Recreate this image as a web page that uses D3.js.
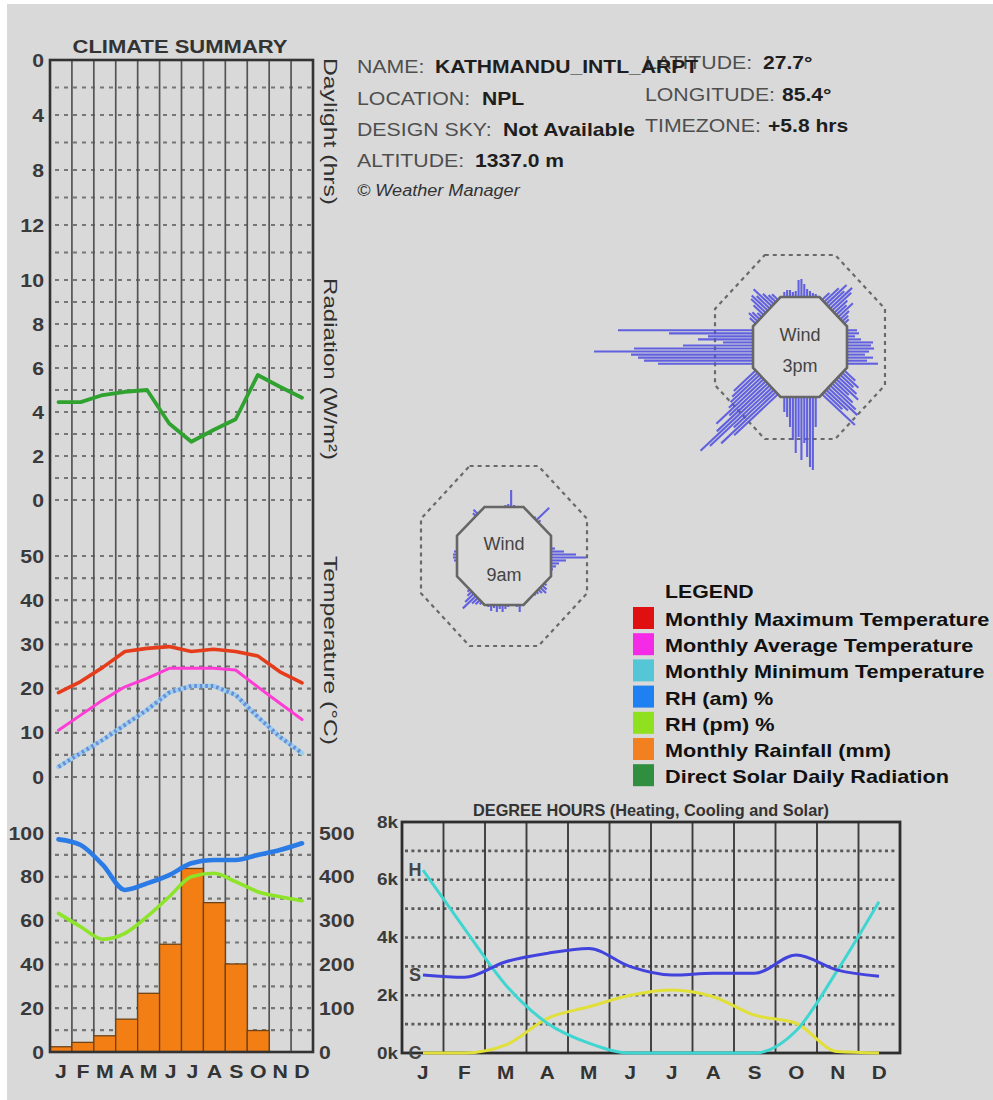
<!DOCTYPE html>
<html>
<head>
<meta charset="utf-8">
<script src="https://cdn.jsdelivr.net/npm/d3@7"></script>
<style>
  html, body { margin: 0; padding: 0; background: #ffffff; }
  svg { display: block; font-family: "Liberation Sans", Arial, sans-serif; }
</style>
</head>
<body>
<svg id="chart" width="993" height="1100"></svg>
<script>
// ---------- data ----------
const months = ["J","F","M","A","M","J","J","A","S","O","N","D"];

const solarRadiation = [4.45, 4.45, 4.77, 4.92, 5.0, 3.48, 2.65, 3.18, 3.67, 5.68, 5.15, 4.65];
const maxTemp = [19.1, 21.6, 24.8, 28.4, 29.1, 29.5, 28.4, 28.9, 28.4, 27.4, 23.8, 21.3];
const avgTemp = [10.6, 14.0, 17.4, 20.4, 22.3, 24.6, 24.6, 24.6, 24.2, 20.4, 16.7, 13.0];
const minTemp = [2.3, 5.4, 8.4, 11.8, 15.2, 19.1, 20.6, 20.6, 18.6, 13.6, 9.1, 5.4];
const rhAm = [97.1, 94.5, 85.4, 74.0, 77.0, 80.8, 86.2, 87.7, 87.7, 90.0, 92.2, 95.3];
const rhPm = [63.3, 57.2, 51.5, 54.2, 61.8, 70.9, 80.0, 81.6, 77.8, 73.2, 70.9, 69.1];
const rainfall = [12, 22, 37, 75, 134, 246, 419, 341, 201, 49, 0, 0];

const daylightTicks = [0, 4, 8, 12];
const radiationTicks = [0, 2, 4, 6, 8, 10];
const tempTicks = [0, 10, 20, 30, 40, 50];
const rhTicks = [0, 20, 40, 60, 80, 100];
const rainTicks = [0, 100, 200, 300, 400, 500];

// degree hours, in thousands
const heatingDH = [6.33, 4.31, 2.35, 1.03, 0.34, 0, 0, 0, 0, 0.77, 2.87, 5.24];
const coolingDH = [0, 0, 0.28, 1.2, 1.6, 2.0, 2.18, 1.95, 1.31, 1.03, 0.05, 0];
const solarDH = [2.7, 2.62, 3.16, 3.45, 3.62, 2.99, 2.7, 2.76, 2.76, 3.39, 2.87, 2.66];
const dhTicks = [0, 2, 4, 6, 8];
const dhSeriesTags = ["H", "C", "S"];

const stationLabels = ["NAME:", "LOCATION:", "DESIGN SKY:", "ALTITUDE:"];
const stationValues = ["KATHMANDU_INTL_ARPT", "NPL", "Not Available", "1337.0 m"];
const coordLabels = ["LATITUDE:", "LONGITUDE:", "TIMEZONE:"];
const coordValues = ["27.7°", "85.4°", "+5.8 hrs"];

const legendLabels = [
  "Monthly Maximum Temperature",
  "Monthly Average Temperature",
  "Monthly Minimum Temperature",
  "RH (am)  %",
  "RH (pm) %",
  "Monthly Rainfall (mm)",
  "Direct Solar Daily Radiation"
];

// wind frequency per octagon side (N, NE, E, SE, S, SW, W, NW), 12 bins along each side
const windSides = ["N", "NE", "E", "SE", "S", "SW", "W", "NW"];
const wind9am = [
  [0, 0, 0, 0, 0, 0, 2, 3, 17, 2, 0, 0],
  [0, 0, 0, 0, 2, 18, 3, 0, 0, 0, 0, 0],
  [0, 0, 1, 4, 13, 25, 35, 15, 8, 5, 2, 0],
  [0, 0, 3, 6, 8, 5, 3, 2, 0, 0, 0, 0],
  [7, 2, 0, 0, 2, 4, 7, 4, 7, 3, 6, 2],
  [3, 6, 8, 18, 12, 6, 3, 0, 0, 0, 0, 0],
  [0, 0, 0, 0, 3, 4, 4, 3, 0, 0, 0, 0],
  [0, 0, 0, 0, 0, 0, 0, 0, 4, 6, 0, 0]
];
const wind3pm = [
  [5, 7, 7, 5, 6, 17, 18, 13, 8, 6, 4, 3],
  [10, 20, 28, 22, 30, 26, 18, 14, 20, 12, 8, 6],
  [10, 12, 8, 14, 26, 24, 27, 22, 18, 26, 20, 31],
  [15, 22, 18, 25, 30, 20, 28, 35, 40, 30, 25, 45],
  [30, 73, 70, 60, 46, 63, 40, 56, 43, 30, 20, 15],
  [60, 75, 55, 85, 95, 70, 50, 65, 45, 40, 35, 30],
  [95, 109, 115, 122, 159, 119, 70, 30, 55, 45, 84, 135],
  [8, 12, 10, 6, 14, 20, 22, 18, 25, 15, 10, 8]
];

// ---------- helpers ----------
const FONT = '"Liberation Sans", Arial, sans-serif';

function widen(sel, k) {
  sel.each(function () {
    const w = this.getComputedTextLength();
    if (w > 0) {
      this.setAttribute("textLength", (w * k).toFixed(1));
      this.setAttribute("lengthAdjust", "spacingAndGlyphs");
    }
  });
}
function fitTo(sel, w) {
  sel.attr("textLength", w).attr("lengthAdjust", "spacingAndGlyphs");
}
function styleAxis(g, size, color) {
  g.select(".domain").remove();
  g.selectAll(".tick line").remove();
  g.selectAll("text")
    .attr("font-size", size)
    .attr("font-weight", "bold")
    .attr("font-family", FONT)
    .attr("fill", color || "#3a3a3a");
}

const svg = d3.select("#chart");

// panel background
svg.append("rect").attr("x", 7).attr("y", 4).attr("width", 986).attr("height", 1096).attr("fill", "#d9d9d9");

// ---------- climate summary (left) ----------
const frame = { x0: 50, x1: 313, top: 60, bottom: 1052 };
const xBand = d3.scaleBand().domain(d3.range(12)).range([frame.x0, frame.x1]);
const xPt = d3.scalePoint().domain(d3.range(12)).range([58.5, 302]);
const yDay = d3.scaleLinear().domain([0, 16]).range([60, 280]);
const yRad = d3.scaleLinear().domain([0, 10]).range([500, 280]);
const yTemp = d3.scaleLinear().domain([0, 50]).range([777, 556]);
const yRH = d3.scaleLinear().domain([0, 100]).range([1052, 833]);
const yRain = d3.scaleLinear().domain([0, 500]).range([1052, 833]);

const left = svg.append("g");

// horizontal dashed grid
const gridYs = [
  ...d3.range(2, 16, 2).map(yDay),
  ...d3.range(0, 11, 1).map(yRad),
  ...d3.range(0, 55, 5).map(yTemp),
  ...d3.range(10, 110, 10).map(yRH)
];
left.append("g").selectAll("line").data(gridYs).join("line")
  .attr("x1", frame.x0 + 2).attr("x2", frame.x1 - 2)
  .attr("y1", d => d).attr("y2", d => d)
  .attr("stroke", "#767676").attr("stroke-width", 2.2)
  .attr("stroke-dasharray", "4,5").attr("stroke-dashoffset", -3);

// month separators
left.append("g").selectAll("line").data(d3.range(1, 12)).join("line")
  .attr("x1", d => xBand(d)).attr("x2", d => xBand(d))
  .attr("y1", frame.top).attr("y2", frame.bottom)
  .attr("stroke", "#545454").attr("stroke-width", 1.7);

// rainfall bars
left.append("g").selectAll("rect").data(rainfall.map((v, i) => ({ v, i })).filter(d => d.v > 0)).join("rect")
  .attr("x", d => xBand(d.i)).attr("width", xBand.bandwidth())
  .attr("y", d => yRain(d.v)).attr("height", d => yRain(0) - yRain(d.v))
  .attr("fill", "#f27e14").attr("stroke", "#6e4416").attr("stroke-width", 1.3);

// frame
left.append("rect")
  .attr("x", frame.x0).attr("y", frame.top)
  .attr("width", frame.x1 - frame.x0).attr("height", frame.bottom - frame.top)
  .attr("fill", "none").attr("stroke", "#333").attr("stroke-width", 2.6);

function drawLine(g, values, y, color, width, curve, extra) {
  const gen = d3.line().x((d, i) => xPt(i)).y(d => y(d)).curve(curve || d3.curveLinear);
  const p = g.append("path").datum(values).attr("d", gen)
    .attr("fill", "none").attr("stroke", color).attr("stroke-width", width)
    .attr("stroke-linejoin", "round").attr("stroke-linecap", "round");
  if (extra) extra(p);
  return p;
}

drawLine(left, solarRadiation, yRad, "#30a230", 3.8);
drawLine(left, maxTemp, yTemp, "#e53d1c", 3.6);
drawLine(left, avgTemp, yTemp, "#ff3cd4", 3);
drawLine(left, minTemp, yTemp, "#98d2ea", 4.6);
drawLine(left, minTemp, yTemp, "#7088dc", 4, null, p => p.attr("stroke-dasharray", "2.5,3").attr("stroke-linecap", "butt"));
drawLine(left, rhPm, yRH, "#8de428", 3.6, d3.curveMonotoneX);
drawLine(left, rhAm, yRH, "#2a7be6", 4.6, d3.curveMonotoneX);

// axes
const axL = (scale, ticks) => left.append("g").attr("transform", `translate(${frame.x0},0)`)
  .call(d3.axisLeft(scale).tickValues(ticks).tickSize(0).tickPadding(6));
[axL(yDay, daylightTicks), axL(yRad, radiationTicks), axL(yTemp, tempTicks), axL(yRH, rhTicks)]
  .forEach(g => { styleAxis(g, 19); widen(g.selectAll("text"), 1.12); });

const rainAxis = left.append("g").attr("transform", `translate(${frame.x1},0)`)
  .call(d3.axisRight(yRain).tickValues(rainTicks).tickSize(0).tickPadding(6));
styleAxis(rainAxis, 19);
widen(rainAxis.selectAll("text"), 1.12);

const monthAxis = left.append("g").attr("transform", `translate(0,${frame.bottom})`)
  .call(d3.axisBottom(xBand).tickFormat(i => months[i]).tickSize(0).tickPadding(13));
styleAxis(monthAxis, 19, "#333");
widen(monthAxis.selectAll("text"), 1.12);

// titles
const title = left.append("text").attr("x", 180).attr("y", 53).attr("text-anchor", "middle")
  .attr("font-size", 19).attr("font-weight", "bold").attr("fill", "#333").text("CLIMATE SUMMARY");
fitTo(title, 215);

const sideTitles = [
  { t: "Daylight (hrs)", y: 58, len: 147 },
  { t: "Radiation (W/m²)", y: 278, len: 182 },
  { t: "Temperature (°C)", y: 556, len: 189 }
];
left.append("g").selectAll("text").data(sideTitles).join("text")
  .attr("transform", d => `translate(324,${d.y}) rotate(90)`)
  .attr("font-size", 18.5).attr("fill", "#303030")
  .attr("textLength", d => d.len).attr("lengthAdjust", "spacingAndGlyphs")
  .text(d => d.t);

// ---------- station header ----------
const head = svg.append("g").attr("font-size", 18.5);
const leftRows = { labelX: 357, valueX: [435, 482, 503, 475], base: [73, 105, 136, 167] };
const rightRows = { labelX: 645, valueX: [763, 782, 768], base: [69, 101, 132] };

function headerRows(labels, values, lay) {
  labels.forEach((lab, i) => {
    const a = head.append("text").attr("x", lay.labelX).attr("y", lay.base[i])
      .attr("fill", "#4e4e4e").text(lab);
    widen(a, 1.15);
    const b = head.append("text").attr("x", lay.valueX[i]).attr("y", lay.base[i])
      .attr("fill", "#1e1e1e").attr("font-weight", "bold").text(values[i]);
    widen(b, 1.14);
  });
}
headerRows(coordLabels, coordValues, rightRows);
headerRows(stationLabels, stationValues, leftRows);

const credit = head.append("text").attr("x", 357).attr("y", 196)
  .attr("font-size", 16).attr("font-style", "italic").attr("fill", "#333").text("© Weather Manager");
widen(credit, 1.13);

// ---------- wind roses ----------
function octagon(cx, cy, ax, ay) {
  const k = 1 / Math.cos(Math.PI / 8);
  return d3.range(8).map(i => {
    const a = (-112.5 + 45 * i) * Math.PI / 180;
    return [cx + ax * k * Math.cos(a), cy + ay * k * Math.sin(a)];
  });
}
const windLen = d3.scaleLinear().domain([0, 100]).range([0, 100]);

function windRose(cx, cy, data, caption, inner, outer) {
  const g = svg.append("g");
  const outerPts = octagon(cx, cy, outer[0], outer[1]);
  g.append("polygon").attr("points", outerPts.map(p => p.join(",")).join(" "))
    .attr("fill", "none").attr("stroke", "#6a6a6a").attr("stroke-width", 2.2)
    .attr("stroke-dasharray", "4,4");

  const pts = octagon(cx, cy, inner[0], inner[1]);
  const bars = [];
  data.forEach((side, s) => {
    const v0 = pts[s], v1 = pts[(s + 1) % 8];
    const dx = v1[0] - v0[0], dy = v1[1] - v0[1];
    const L = Math.hypot(dx, dy);
    const n = [dy / L, -dx / L];
    side.forEach((v, i) => {
      if (v <= 0) return;
      const f = 0.06 + 0.88 * (i + 0.5) / side.length;
      const p = [v0[0] + dx * f, v0[1] + dy * f];
      bars.push({ side: windSides[s], p, q: [p[0] + n[0] * windLen(v), p[1] + n[1] * windLen(v)] });
    });
  });
  g.append("g").selectAll("line").data(bars).join("line")
    .attr("x1", d => d.p[0]).attr("y1", d => d.p[1])
    .attr("x2", d => d.q[0]).attr("y2", d => d.q[1])
    .attr("stroke", "#5050e0").attr("stroke-width", 2.1).attr("stroke-opacity", 0.88);

  g.append("polygon").attr("points", pts.map(p => p.join(",")).join(" "))
    .attr("fill", "#dadada").attr("stroke", "#666").attr("stroke-width", 2.6);
  g.append("text").attr("x", cx).attr("y", cy - 12).attr("text-anchor", "middle")
    .attr("dominant-baseline", "central").attr("font-size", 18).attr("fill", "#444").text("Wind");
  g.append("text").attr("x", cx).attr("y", cy + 19).attr("text-anchor", "middle")
    .attr("dominant-baseline", "central").attr("font-size", 18).attr("fill", "#444").text(caption);
}
windRose(800, 347, wind3pm, "3pm", [47, 50], [85, 92]);
windRose(504, 556, wind9am, "9am", [47, 49], [83, 90]);

// ---------- legend ----------
const legendColors = ["#e01010", "#f52ae6", "#55c6d6", "#1f80f2", "#8fe01e", "#f28020", "#2f8f3e"];
const lg = svg.append("g");
const lgTitle = lg.append("text").attr("x", 665).attr("y", 598).attr("font-size", 18.5)
  .attr("font-weight", "bold").attr("fill", "#111").text("LEGEND");
widen(lgTitle, 1.15);
const rows = lg.selectAll("g.row").data(legendLabels).join("g").attr("class", "row")
  .attr("transform", (d, i) => `translate(0,${626 + 26.2 * i})`);
rows.append("rect").attr("x", 633).attr("y", -19).attr("width", 21).attr("height", 22)
  .attr("fill", (d, i) => legendColors[i]);
const lgText = rows.append("text").attr("x", 665).attr("y", 0).attr("font-size", 18.5)
  .attr("font-weight", "bold").attr("fill", "#111").text(d => d);
widen(lgText, 1.17);

// ---------- degree hours ----------
const dh = { x0: 402, x1: 900, top: 822, bottom: 1053 };
const dhBand = d3.scaleBand().domain(d3.range(12)).range([dh.x0, dh.x1]);
const dhX = d3.scalePoint().domain(d3.range(12)).range([423, 879]);
const dhY = d3.scaleLinear().domain([0, 8]).range([dh.bottom, dh.top]);
const dg = svg.append("g");

dg.append("g").selectAll("line").data(d3.range(1, 8)).join("line")
  .attr("x1", dh.x0 + 3).attr("x2", dh.x1 - 3)
  .attr("y1", d => dhY(d)).attr("y2", d => dhY(d))
  .attr("stroke", "#5a5a5a").attr("stroke-width", 2.6).attr("stroke-dasharray", "3,3.4");
dg.append("g").selectAll("line").data(d3.range(1, 12)).join("line")
  .attr("x1", d => dhBand(d)).attr("x2", d => dhBand(d))
  .attr("y1", dh.top).attr("y2", dh.bottom)
  .attr("stroke", "#3c3c3c").attr("stroke-width", 1.9);
dg.append("rect").attr("x", dh.x0).attr("y", dh.top)
  .attr("width", dh.x1 - dh.x0).attr("height", dh.bottom - dh.top)
  .attr("fill", "none").attr("stroke", "#2e2e2e").attr("stroke-width", 2.8);

const dhLine = d3.line().x((d, i) => dhX(i)).y(d => dhY(d)).curve(d3.curveMonotoneX);
[[coolingDH, "#e0e038"], [heatingDH, "#3fd6d2"], [solarDH, "#4242dc"]].forEach(([vals, c]) => {
  dg.append("path").datum(vals).attr("d", dhLine).attr("fill", "none")
    .attr("stroke", c).attr("stroke-width", 3).attr("stroke-linejoin", "round");
});

// series tags at the January value
const tagVals = { H: heatingDH[0], C: coolingDH[0], S: solarDH[0] };
dg.append("g").selectAll("text").data(dhSeriesTags).join("text")
  .attr("x", 415).attr("y", d => dhY(tagVals[d])).attr("text-anchor", "middle")
  .attr("dominant-baseline", "central").attr("font-size", 18).attr("font-weight", "bold")
  .attr("fill", "#444").text(d => d);

const dhAxis = dg.append("g").attr("transform", `translate(${dh.x0},0)`)
  .call(d3.axisLeft(dhY).tickValues(dhTicks).tickFormat(d => d + "k").tickSize(0).tickPadding(4));
styleAxis(dhAxis, 16, "#3a3a3a");
widen(dhAxis.selectAll("text"), 1.18);

const dhMonths = dg.append("g").attr("transform", `translate(0,${dh.bottom})`)
  .call(d3.axisBottom(dhBand).tickFormat(i => months[i]).tickSize(0).tickPadding(13));
styleAxis(dhMonths, 18.5, "#333");
widen(dhMonths.selectAll("text"), 1.12);

const dhTitle = dg.append("text").attr("x", 651).attr("y", 816).attr("text-anchor", "middle")
  .attr("font-size", 16.5).attr("font-weight", "bold").attr("fill", "#333")
  .text("DEGREE HOURS (Heating, Cooling and Solar)");
fitTo(dhTitle, 356);
</script>
</body>
</html>
